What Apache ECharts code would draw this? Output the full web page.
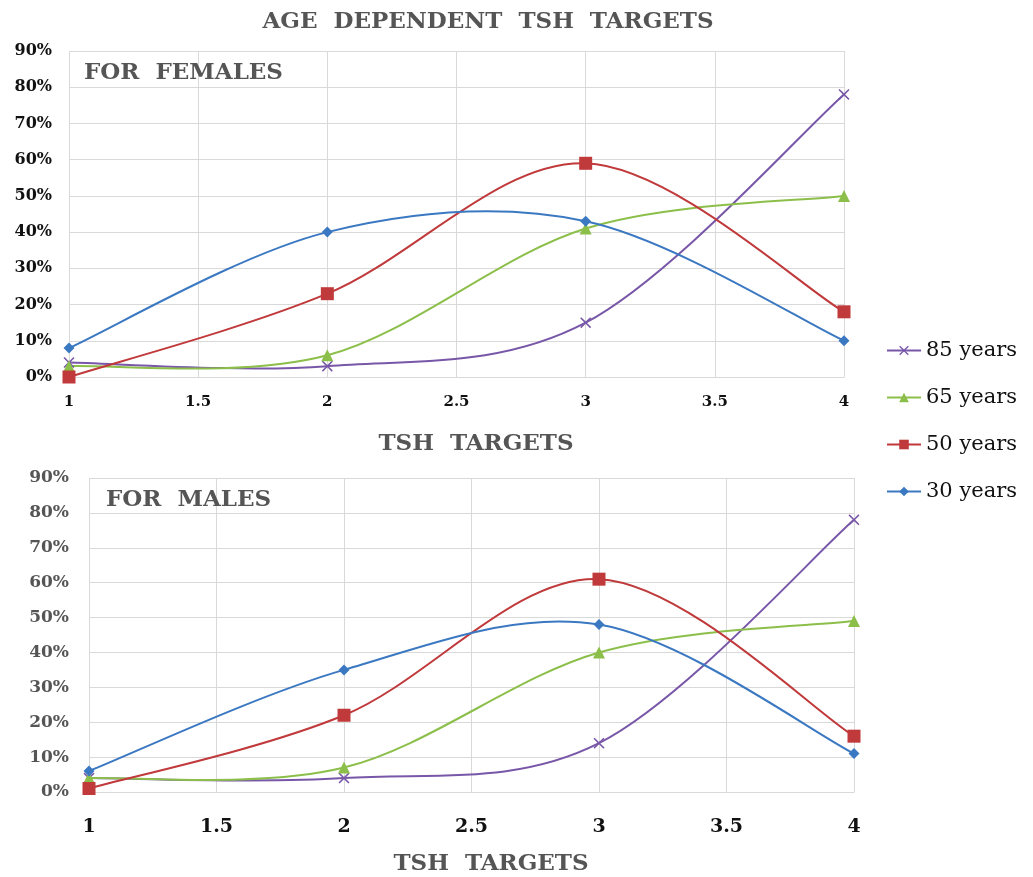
<!DOCTYPE html>
<html>
<head>
<meta charset="utf-8">
<script src="https://cdn.jsdelivr.net/npm/echarts@6/dist/echarts.min.js"></script>
<style>html,body{margin:0;padding:0;background:#fff;}#c{width:1033px;height:877px;}</style>
</head>
<body>
<div id="c"></div>
<script>
var tshX = [1, 2, 3, 4];
var seriesNames = ['30 years', '50 years', '65 years', '85 years'];
var legendOrder = ['85 years', '65 years', '50 years', '30 years'];
// Females (percent)
var fem30 = [8, 40, 43, 10];
var fem50 = [0, 23, 59, 18];
var fem65 = [3, 6, 41, 50];
var fem85 = [4, 3, 15, 78];
// Males (percent)
var mal30 = [6, 35, 48, 11];
var mal50 = [1, 22, 61, 16];
var mal65 = [4, 7, 40, 49];
var mal85 = [4, 4, 14, 78];

var colors = {'30 years': '#3b78c2', '50 years': '#c0393b', '65 years': '#8cbf4a', '85 years': '#7857a8'};
var symbols = {
  '30 years': 'diamond',
  '50 years': 'rect',
  '65 years': 'triangle',
  '85 years': 'path://M0,1L1,0L5,4L9,0L10,1L6,5L10,9L9,10L5,6L1,10L0,9L4,5Z'
};
var sizes = {'30 years': 11, '50 years': 13, '65 years': 12, '85 years': 11};

function pairs(v) { return tshX.map(function (x, i) { return [x, v[i]]; }); }

var serif = 'DejaVu Serif';
var femData = [fem30, fem50, fem65, fem85];
var malData = [mal30, mal50, mal65, mal85];

// Excel-style smoothed segment (Catmull-Rom -> Bezier), mapped through the axes
function makeRender(color) {
  return function (params, api) {
    var i = params.dataIndexInside, n = params.dataInsideLength;
    if (i >= n - 1) return null;
    function P(k) { k = Math.max(0, Math.min(n - 1, k)); return [api.value(0, k), api.value(1, k)]; }
    var p0 = P(i - 1), p1 = P(i), p2 = P(i + 1), p3 = P(i + 2);
    var c1 = [p1[0] + (p2[0] - p0[0]) / 6, p1[1] + (p2[1] - p0[1]) / 6];
    var c2 = [p2[0] - (p3[0] - p1[0]) / 6, p2[1] - (p3[1] - p1[1]) / 6];
    var a = api.coord(p1), b = api.coord(p2), ca = api.coord(c1), cb = api.coord(c2);
    return {
      type: 'bezierCurve',
      shape: {x1: a[0], y1: a[1], x2: b[0], y2: b[1], cpx1: ca[0], cpy1: ca[1], cpx2: cb[0], cpy2: cb[1]},
      style: {stroke: color, lineWidth: 2, fill: null}
    };
  };
}

var series = [];
var curves = [];
seriesNames.forEach(function (n, i) {
  [[femData, 0], [malData, 1]].forEach(function (d) {
    series.push({
      name: n, type: 'line', xAxisIndex: d[1], yAxisIndex: d[1],
      data: pairs(d[0][i]),
      symbol: symbols[n], symbolSize: sizes[n],
      lineStyle: {color: colors[n], width: 2, opacity: 0},
      itemStyle: {color: colors[n]},
      z: 20 - i
    });
    curves.push({
      name: n, type: 'custom', xAxisIndex: d[1], yAxisIndex: d[1],
      data: pairs(d[0][i]), encode: {x: 0, y: 1},
      renderItem: makeRender(colors[n]),
      z: 10 - i, silent: true
    });
  });
});
series = series.concat(curves);

function xAxis(gi, fs, margin) {
  return {
    type: 'value', gridIndex: gi, min: 1, max: 4, interval: 0.5,
    axisLine: {show: true, lineStyle: {color: '#d9d9d9'}},
    axisTick: {show: false},
    splitLine: {show: true, lineStyle: {color: '#d9d9d9', width: 1}},
    axisLabel: {color: '#111', fontFamily: serif, fontWeight: 'bold', fontSize: fs, margin: margin}
  };
}
function yAxis(gi, col, fs, margin) {
  return {
    type: 'value', gridIndex: gi, min: 0, max: 90, interval: 10,
    axisLine: {show: false}, axisTick: {show: false},
    splitLine: {show: true, lineStyle: {color: '#d9d9d9', width: 1}},
    axisLabel: {color: col, fontFamily: serif, fontWeight: 'bold', fontSize: fs, margin: margin, formatter: '{value}%'}
  };
}

var headStyle = {color: '#555', fontFamily: serif, fontWeight: 'bold', fontSize: 23};

var chart = echarts.init(document.getElementById('c'));
chart.setOption({
  animation: false,
  backgroundColor: '#fff',
  title: [
    {text: 'AGE  DEPENDENT  TSH  TARGETS', left: 483, textAlign: 'center', top: 6, textStyle: headStyle},
    {text: 'FOR  FEMALES', left: 79, top: 57, textStyle: headStyle},
    {text: 'FOR  MALES', left: 101, top: 484, textStyle: headStyle},
    {text: 'TSH  TARGETS', left: 471, textAlign: 'center', top: 428, textStyle: headStyle},
    {text: 'TSH  TARGETS', left: 486, textAlign: 'center', top: 848, textStyle: headStyle}
  ],
  legend: {
    orient: 'vertical', left: 881, top: 335, itemGap: 26,
    itemWidth: 34, itemHeight: 12,
    data: legendOrder.map(function (n) {
      return {name: n, lineStyle: {color: colors[n], width: 2, opacity: 1}};
    }),
    textStyle: {color: '#111', fontFamily: serif, fontSize: 21}
  },
  grid: [
    {left: 69, right: 189, top: 51, height: 326},
    {left: 89, right: 179, top: 478, height: 314}
  ],
  xAxis: [xAxis(0, 15, 18), xAxis(1, 19, 26)],
  yAxis: [yAxis(0, '#111', 16, 17), yAxis(1, '#555', 17, 20)],
  series: series
});
</script>
</body>
</html>
